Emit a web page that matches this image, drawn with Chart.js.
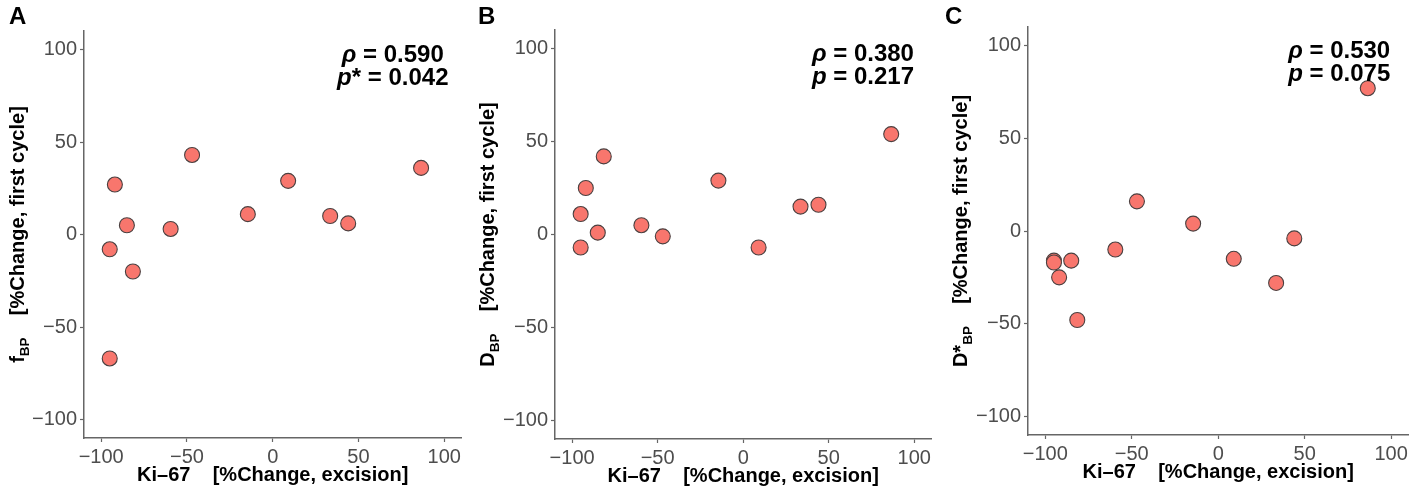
<!DOCTYPE html>
<html>
<head>
<meta charset="utf-8">
<title>Ki-67 correlations</title>
<script src="https://cdn.jsdelivr.net/npm/chart.js@4.4.1/dist/chart.umd.min.js"></script>
<style>
  body { margin: 0; background: #fff; }
  #wrap { position: relative; width: 1417px; height: 495px; }
  .panel { position: absolute; top: 0; height: 495px; }
</style>
</head>
<body>
<div id="wrap">
  <div class="panel" style="left:0;width:470px"><canvas id="chartA"></canvas></div>
  <div class="panel" style="left:470px;width:470px"><canvas id="chartB"></canvas></div>
  <div class="panel" style="left:940px;width:477px"><canvas id="chartC"></canvas></div>
</div>
<script>
// data
var ki67 = [-95, -95, -92, -85, -81.5, -59.5, -47, -14.5, 9, 33.5, 44, 86.5]
var fBP = [-8, -67, 27, 5, -20, 3, 43, 11, 29, 10, 6, 36]
var dBP = [-7, 11, 25, 1, 42, 5, -1, 29, -7, 15, 16, 54]
var dStarBP = [-16, -17, -25, -16, -48, -10, 16, 4, -15, -28, -4, 77]

var xTicks = [-100, -50, 0, 50, 100]
var yTicks = [-100, -50, 0, 50, 100]

var panelLetters = ['A', 'B', 'C']
var rhoValues = ['0.590', '0.380', '0.530']
var pValues = ['0.042', '0.217', '0.075']
var pStars = ['*', '', '']
var yMain = ['f', 'D', 'D']
var ySup = ['', '', '*']
var ySub = ['BP', 'BP', 'BP']
var yRest = '[%Change, first cycle]'
var xTitle = 'Ki\u201367    [%Change, excision]'

var FONT = '"Liberation Sans", Arial, Helvetica, sans-serif'

// drawing a line made of runs of different fonts
function measureRuns(ctx, runs) {
  var w = 0
  runs.forEach(function (r) {
    ctx.font = r.font
    w += ctx.measureText(r.t).width
  })
  return w
}
function drawRuns(ctx, runs, x, y) {
  runs.forEach(function (r) {
    ctx.font = r.font
    ctx.fillText(r.t, x, y + (r.dy || 0))
    x += ctx.measureText(r.t).width
  })
}

var panelText = {
  id: 'panelText',
  afterDraw: function (chart, args, opts) {
    var ctx = chart.ctx
    var area = chart.chartArea
    var i = opts.index
    var bold = 'bold 20px ' + FONT
    var small = 'bold 13.5px ' + FONT
    ctx.save()
    ctx.fillStyle = '#000'
    ctx.textBaseline = 'alphabetic'
    ctx.textAlign = 'left'

    // panel letter
    ctx.font = 'bold 24px ' + FONT
    ctx.fillText(panelLetters[i], opts.letterX, 24)

    // correlation box
    var big = 'bold 24px ' + FONT
    var bigIt = 'italic bold 24px ' + FONT
    var cx = chart.scales.x.getPixelForValue(70)
    var line1 = [{ t: '\u03c1', font: bigIt }, { t: ' = ' + rhoValues[i], font: big }]
    var line2 = [{ t: 'p', font: bigIt }, { t: pStars[i], font: big }, { t: ' = ' + pValues[i], font: big }]
    drawRuns(ctx, line1, cx - measureRuns(ctx, line1) / 2, chart.scales.y.getPixelForValue(93.5))
    drawRuns(ctx, line2, cx - measureRuns(ctx, line2) / 2, chart.scales.y.getPixelForValue(81))

    // x title
    ctx.font = bold
    var xw = ctx.measureText(xTitle).width
    ctx.fillText(xTitle, (area.left + area.right) / 2 - xw / 2, area.bottom + 43)

    // y title, rotated
    var yRuns = [{ t: yMain[i], font: bold }]
    if (ySup[i]) yRuns.push({ t: ySup[i], font: bold })
    yRuns.push({ t: ySub[i], font: small, dy: 5 })
    yRuns.push({ t: '    ' + yRest, font: bold })
    var yw = measureRuns(ctx, yRuns)
    ctx.translate(opts.titleX, (area.top + area.bottom) / 2)
    ctx.rotate(-Math.PI / 2)
    drawRuns(ctx, yRuns, -yw / 2, 0)
    ctx.restore()
  }
}

function tickLabel(v) {
  return v < 0 ? '\u2212' + Math.abs(v) : String(v)
}

function makeChart(id, index, yData, box) {
  var points = ki67.map(function (x, k) {
    return { x: x, y: yData[k] }
  })
  var axisGrid = { drawOnChartArea: false, drawTicks: true, tickLength: 4, color: '#666', tickWidth: 1.2 }
  var axisBorder = { display: true, color: '#666', width: 1.5 }
  var tickStyle = { color: '#4D4D4D', font: { size: 20, family: FONT }, padding: 3, autoSkip: false, maxRotation: 0, callback: tickLabel }
  return new Chart(document.getElementById(id), {
    type: 'scatter',
    data: {
      datasets: [
        {
          data: points,
          pointRadius: 7.5,
          pointHoverRadius: 7.5,
          pointBackgroundColor: '#F8766D',
          pointBorderColor: '#4a4040',
          pointBorderWidth: 1.1
        }
      ]
    },
    options: {
      responsive: true,
      maintainAspectRatio: false,
      animation: false,
      events: [],
      layout: { padding: { top: box.top, right: box.right, left: 0, bottom: 0 } },
      scales: {
        x: {
          type: 'linear',
          min: -110,
          max: 110,
          afterBuildTicks: function (s) { s.ticks = xTicks.map(function (v) { return { value: v } }) },
          afterFit: function (s) { s.height = box.xHeight },
          grid: axisGrid,
          border: axisBorder,
          ticks: tickStyle
        },
        y: {
          type: 'linear',
          min: -110,
          max: 110,
          afterBuildTicks: function (s) { s.ticks = yTicks.map(function (v) { return { value: v } }) },
          afterFit: function (s) { s.width = box.yWidth },
          grid: axisGrid,
          border: axisBorder,
          ticks: tickStyle
        }
      },
      plugins: {
        legend: { display: false },
        tooltip: { enabled: false },
        panelText: { index: index, letterX: box.letterX, titleX: box.titleX }
      }
    },
    plugins: [panelText]
  })
}

makeChart('chartA', 0, fBP, { top: 31, right: 4, yWidth: 84, xHeight: 57, letterX: 9, titleX: 24 })
makeChart('chartB', 1, dBP, { top: 30, right: 3, yWidth: 85, xHeight: 56, letterX: 8, titleX: 24 })
makeChart('chartC', 2, dStarBP, { top: 27, right: 8, yWidth: 88, xHeight: 60, letterX: 5, titleX: 27 })
</script>
</body>
</html>
